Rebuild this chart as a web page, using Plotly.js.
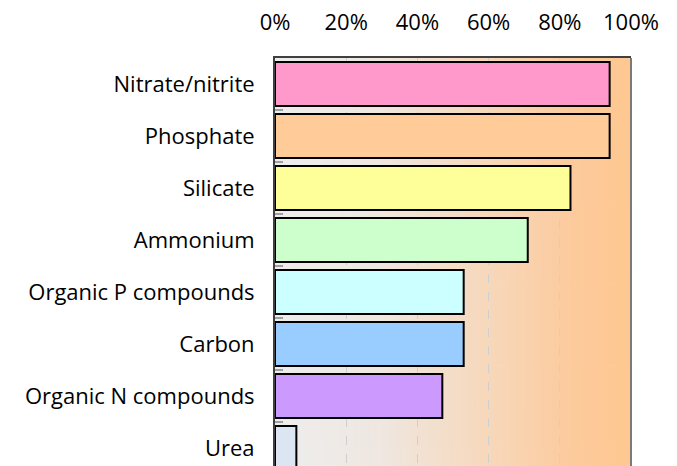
<!DOCTYPE html>
<html>
<head>
<meta charset="utf-8">
<script src="https://cdn.plot.ly/plotly-3.0.1.min.js"></script>
<style>
body { margin: 0; background: #fff; }
#graph_bar { width: 677px; height: 466px; }
</style>
</head>
<body>
<div id="graph_bar"></div>
<script>
//data
var categories = ['Nitrate/nitrite', 'Phosphate', 'Silicate', 'Ammonium', 'Organic P compounds', 'Carbon', 'Organic N compounds', 'Urea'];
var shares = [0.94, 0.94, 0.83, 0.71, 0.53, 0.53, 0.47, 0.06];
var barColors = ['#ff99cc', '#ffcc99', '#ffff99', '#ccffcc', '#ccffff', '#99ccff', '#cc99ff', '#dce6f2'];
var xTicks = [0, 0.2, 0.4, 0.6, 0.8, 1];

//background gradient for the plot area
var cv = document.createElement('canvas');
cv.width = 400;
cv.height = 10;
var ctx = cv.getContext('2d');
var grad = ctx.createLinearGradient(0, 0, 400, 0);
grad.addColorStop(0, '#eeeeee');
grad.addColorStop(0.3, '#efe7e0');
grad.addColorStop(0.6, '#f7d8bb');
grad.addColorStop(0.85, '#fdca9b');
grad.addColorStop(1, '#ffc891');
ctx.fillStyle = grad;
ctx.fillRect(0, 0, 400, 10);

var trace1 = {
    x: shares,
    y: categories,
    type: 'bar',
    orientation: 'h',
    marker: {
        color: barColors,
        line: {color: '#000', width: 2}
    },
    hoverinfo: 'x+y'
};

var layout = {
    width: 677,
    height: 466,
    margin: {l: 275, r: 46, t: 58, b: 0, pad: 0},
    paper_bgcolor: '#fff',
    plot_bgcolor: 'rgba(0,0,0,0)',
    showlegend: false,
    bargap: 0.15,
    font: {family: 'Open Sans, sans-serif', size: 22, color: '#000'},
    xaxis: {
        side: 'top',
        range: [0, 1],
        tickvals: xTicks,
        tickformat: '.0%',
        showgrid: true,
        gridcolor: '#cfcfcf',
        griddash: 'dash',
        gridwidth: 1,
        zeroline: false,
        showline: true,
        linecolor: '#404040',
        linewidth: 2,
        ticks: '',
        ticklabelstandoff: 17,
        fixedrange: true
    },
    yaxis: {
        type: 'category',
        range: [7.346, -0.5],
        showgrid: false,
        zeroline: false,
        showline: true,
        linecolor: '#404040',
        linewidth: 2,
        ticks: 'inside',
        tickson: 'boundaries',
        ticklen: 8,
        tickwidth: 2,
        tickcolor: '#a0a0a0',
        ticklabelstandoff: 14,
        fixedrange: true
    },
    images: [{
        source: cv.toDataURL('image/png'),
        xref: 'paper', yref: 'paper',
        x: 0, y: 1,
        sizex: 1, sizey: 1,
        sizing: 'stretch',
        xanchor: 'left', yanchor: 'top',
        layer: 'below'
    }],
    shapes: [{
        type: 'line',
        xref: 'paper', yref: 'paper',
        x0: 1, x1: 1, y0: 0, y1: 1,
        line: {color: '#7a7a7a', width: 2}
    }]
};

Plotly.newPlot('graph_bar', [trace1], layout, {displayModeBar: false});
</script>
</body>
</html>
